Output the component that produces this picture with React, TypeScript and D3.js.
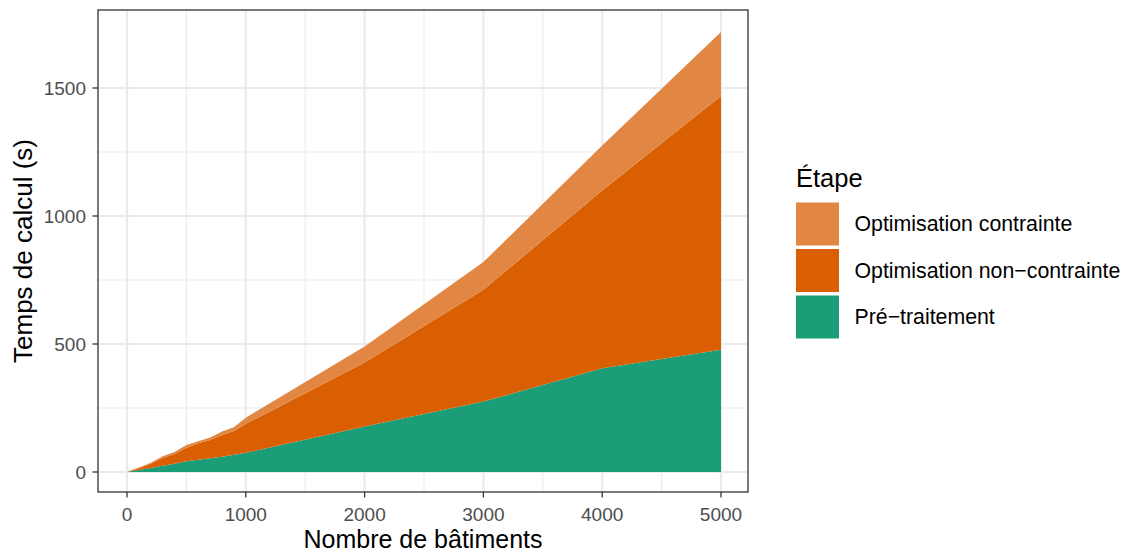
import React from "react";
import * as d3 from "d3";

const batiments = [10, 100, 200, 300, 400, 500, 600, 700, 800, 900, 1000, 2000, 3000, 4000, 5000];
const pretraitement = [1, 8, 16, 24, 32, 42, 48, 54, 60, 67, 75, 178, 275, 405, 478];
const optNonContrainte = [1, 7, 16, 31, 38, 53, 64, 71, 85, 93, 113, 250, 437, 695, 991];
const optContrainte = [1, 3, 4, 7, 8, 10, 8, 10, 13, 15, 24, 62, 108, 175, 250];

const stages = ["Pré−traitement", "Optimisation non−contrainte", "Optimisation contrainte"];
const colors = ["#1B9E77", "#D95F02", "#E28743"];
const legendOrder = ["Optimisation contrainte", "Optimisation non−contrainte", "Pré−traitement"];

const xTicks = [0, 1000, 2000, 3000, 4000, 5000];
const xMinor = [500, 1500, 2500, 3500, 4500];
const yTicks = [0, 500, 1000, 1500];
const yMinor = [250, 750, 1250];

const W = 1126, H = 553;
const P = { left: 98, right: 748, top: 10, bottom: 492 };
const FONT = "'Liberation Sans', Arial, Helvetica, sans-serif";

export default function App() {
  const rows = batiments.map((b, i) => ({
    x: b,
    [stages[0]]: pretraitement[i],
    [stages[1]]: optNonContrainte[i],
    [stages[2]]: optContrainte[i],
  }));
  const series = d3.stack<any>().keys(stages)(rows);

  const x = d3.scaleLinear().domain([0, 5000]).range([127, 721]);
  const y = d3.scaleLinear().domain([0, 1500]).range([472, 88]);

  const area = d3
    .area<any>()
    .x((d) => x(d.data.x))
    .y0((d) => y(d[0]))
    .y1((d) => y(d[1]));

  const colorOf = (k: string) => colors[stages.indexOf(k)];

  return (
    <svg width={W} height={H} style={{ position: "absolute", left: 0, top: 0, background: "#fff" }} fontFamily={FONT}>
      <rect x={0} y={0} width={W} height={H} fill="#fff" />
      <g>
        {xMinor.map((t) => (
          <line key={"xm" + t} x1={x(t)} x2={x(t)} y1={P.top} y2={P.bottom} stroke="#EBEBEB" strokeWidth={1.1} />
        ))}
        {yMinor.map((t) => (
          <line key={"ym" + t} x1={P.left} x2={P.right} y1={y(t)} y2={y(t)} stroke="#EBEBEB" strokeWidth={1.1} />
        ))}
        {xTicks.map((t) => (
          <line key={"xg" + t} x1={x(t)} x2={x(t)} y1={P.top} y2={P.bottom} stroke="#EBEBEB" strokeWidth={2.2} />
        ))}
        {yTicks.map((t) => (
          <line key={"yg" + t} x1={P.left} x2={P.right} y1={y(t)} y2={y(t)} stroke="#EBEBEB" strokeWidth={2.2} />
        ))}
      </g>
      <g>
        {series.map((s) => (
          <path key={s.key} d={area(s) as string} fill={colorOf(s.key)} />
        ))}
      </g>
      <rect x={P.left} y={P.top} width={P.right - P.left} height={P.bottom - P.top} fill="none" stroke="#333333" strokeWidth={1.3} />
      <g>
        {xTicks.map((t) => (
          <g key={"xt" + t}>
            <line x1={x(t)} x2={x(t)} y1={P.bottom} y2={P.bottom + 5.5} stroke="#333333" strokeWidth={1.3} />
            <text x={x(t)} y={P.bottom + 28.5} textAnchor="middle" fontSize={19} fill="#4D4D4D">
              {t}
            </text>
          </g>
        ))}
        <text x={(P.left + P.right) / 2} y={547.5} textAnchor="middle" fontSize={25} fill="#000">
          Nombre de bâtiments
        </text>
      </g>
      <g>
        {yTicks.map((t) => (
          <g key={"yt" + t}>
            <line x1={P.left - 5.5} x2={P.left} y1={y(t)} y2={y(t)} stroke="#333333" strokeWidth={1.3} />
            <text x={P.left - 12} y={y(t)} dy="0.35em" textAnchor="end" fontSize={19} fill="#4D4D4D">
              {t}
            </text>
          </g>
        ))}
        <text
          transform={`translate(32, ${(P.top + P.bottom) / 2}) rotate(-90)`}
          textAnchor="middle"
          fontSize={26}
          fill="#000"
        >
          Temps de calcul (s)
        </text>
      </g>
      <g>
        <text x={796} y={187} fontSize={25.5} fill="#000">
          Étape
        </text>
        {legendOrder.map((k, i) => (
          <g key={k} transform={`translate(796, ${202.5 + i * 46.5})`}>
            <rect x={0} y={0} width={43} height={43} fill={colorOf(k)} />
            <text x={58.5} y={21.5} dy="0.35em" fontSize={21.3} fill="#000">
              {k}
            </text>
          </g>
        ))}
      </g>
    </svg>
  );
}
